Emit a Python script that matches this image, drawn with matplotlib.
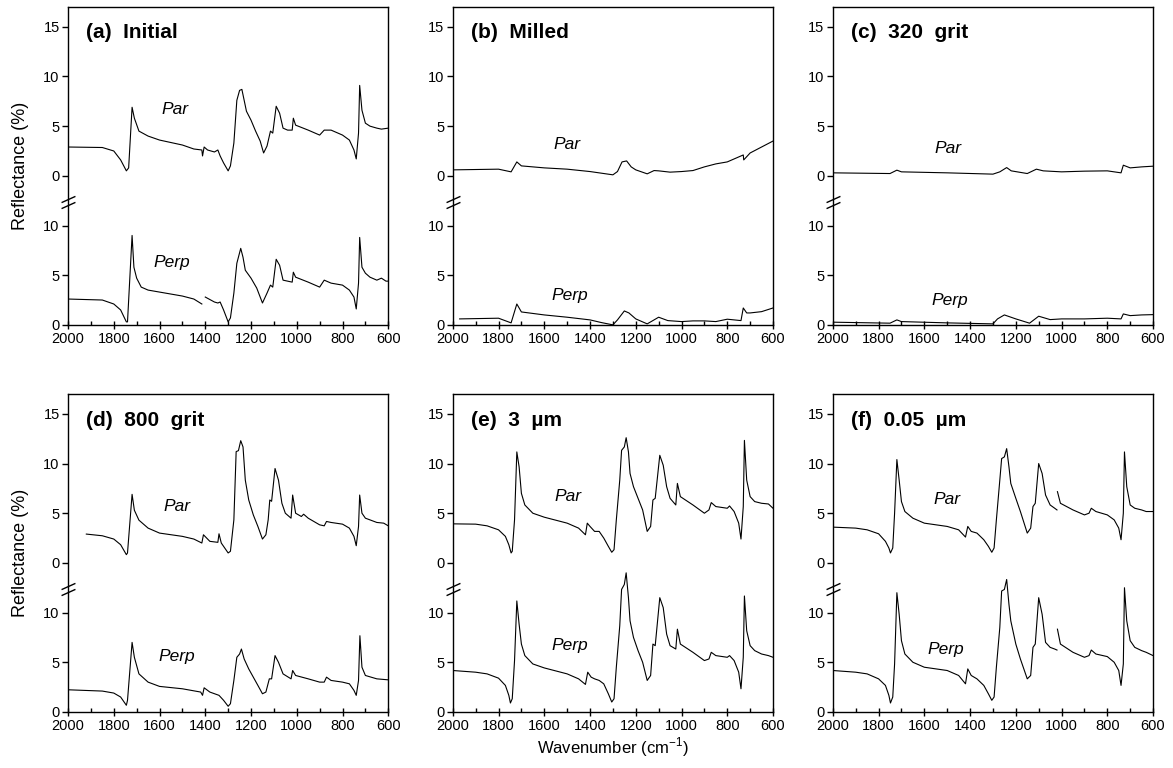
import numpy as np
import matplotlib.pyplot as plt
from matplotlib.transforms import blended_transform_factory

plt.rcParams['font.family'] = ['Liberation Sans', 'DejaVu Sans']

OFFSET = 15.0   # Par spectra are drawn on the upper part of the broken axis
BREAK = 12.4    # where the // marks sit on the left spine
nan = np.nan

# ---- (a) Initial ----
a_par_wn = [2000, 1850, 1800, 1770, 1745, 1735, 1720, 1710, 1690, 1650, 1600, 1500, 1450,
            1415, 1412, 1405, 1390, 1360, 1345, 1335, 1320, 1300, 1290, 1275, 1262, 1250,
            1240, 1230, 1220, 1200, 1180, 1160, 1145, 1130, 1115, 1105, 1090, 1075, 1060,
            1040, 1020, 1015, 1005, 950, 900, 880, 850, 800, 770, 750, 740, 730, 725, 715,
            700, 680, 650, 630, 600]
a_par = [2.9, 2.85, 2.5, 1.6, 0.5, 0.8, 6.9, 5.8, 4.5, 4.0, 3.6, 3.1, 2.7,
         2.6, 2.0, 2.9, 2.6, 2.4, 2.6, 2.0, 1.3, 0.5, 1.0, 3.3, 7.6, 8.6,
         8.7, 7.6, 6.5, 5.6, 4.5, 3.5, 2.3, 3.0, 4.5, 4.3, 7.0, 6.3, 4.8,
         4.6, 4.6, 5.8, 5.1, 4.6, 4.1, 4.6, 4.6, 4.1, 3.6, 2.6, 1.7, 4.3, 9.1, 6.6,
         5.3, 5.0, 4.8, 4.7, 4.8]
a_perp_wn = [2000, 1850, 1800, 1770, 1745, 1740, 1720, 1712, 1700, 1680, 1650, 1600, 1500,
             1450, 1415, 1408, 1400, 1360, 1345, 1335, 1320, 1300, 1290, 1275, 1262, 1245,
             1235, 1225, 1200, 1175, 1150, 1130, 1115, 1105, 1090, 1075, 1060, 1020, 1015,
             1005, 950, 900, 880, 850, 800, 770, 750, 740, 730, 725, 715, 700, 680, 650,
             630, 610, 600]
a_perp = [2.6, 2.5, 2.1, 1.5, 0.3, 0.3, 9.0, 5.8, 4.7, 3.8, 3.5, 3.3, 2.9,
          2.6, 2.1, nan, 2.8, 2.3, 2.2, 2.3, 1.5, 0.3, 0.7, 3.2, 6.2, 7.7,
          6.8, 5.5, 4.7, 3.7, 2.2, 3.2, 4.0, 3.8, 6.6, 6.0, 4.5, 4.3, 5.3,
          4.8, 4.3, 3.8, 4.5, 4.2, 4.0, 3.5, 2.8, 1.6, 4.2, 8.8, 5.8, 5.2, 4.8, 4.5,
          4.7, 4.4, 4.4]

# ---- (b) Milled ----
b_par_wn = [2000, 1800, 1745, 1720, 1700, 1600, 1500, 1400, 1300, 1280, 1260, 1240, 1220,
            1200, 1150, 1120, 1100, 1050, 1000, 950, 900, 850, 800, 750, 730, 728, 700,
            650, 600]
b_par = [0.6, 0.67, 0.4, 1.4, 1.0, 0.8, 0.67, 0.43, 0.1, 0.43, 1.4, 1.5, 0.9,
         0.6, 0.2, 0.53, 0.5, 0.37, 0.43, 0.53, 0.9, 1.2, 1.4, 1.9, 2.1, 1.6, 2.3,
         2.9, 3.5]
b_perp_wn = [1970, 1800, 1745, 1720, 1700, 1600, 1500, 1400, 1350, 1300, 1280, 1250, 1230,
             1200, 1150, 1120, 1100, 1060, 1000, 950, 900, 850, 800, 740, 730, 715, 700,
             650, 600]
b_perp = [0.6, 0.67, 0.2, 2.1, 1.3, 1.0, 0.77, 0.5, 0.23, 0.0, 0.5, 1.4, 1.2,
          0.6, 0.1, 0.5, 0.77, 0.43, 0.33, 0.4, 0.4, 0.33, 0.57, 0.43, 1.7, 1.2, 1.2,
          1.33, 1.7]

# ---- (c) 320 grit ----
c_par_wn = [2000, 1750, 1720, 1700, 1500, 1300, 1270, 1240, 1220, 1150, 1110, 1080, 1000,
            900, 800, 740, 730, 700, 650, 600]
c_par = [0.3, 0.23, 0.57, 0.4, 0.3, 0.17, 0.4, 0.83, 0.5, 0.23, 0.67, 0.5, 0.4,
         0.47, 0.5, 0.3, 1.07, 0.8, 0.9, 0.97]
c_perp_wn = [2000, 1750, 1720, 1700, 1500, 1300, 1280, 1250, 1200, 1140, 1100, 1050, 1000,
             900, 800, 740, 730, 700, 650, 600]
c_perp = [0.27, 0.17, 0.5, 0.33, 0.2, 0.1, 0.6, 1.0, 0.6, 0.17, 0.87, 0.53, 0.6,
          0.6, 0.67, 0.6, 1.1, 0.93, 1.0, 1.03]

# ---- (d) 800 grit ----
d_par_wn = [1920, 1850, 1800, 1770, 1745, 1740, 1720, 1710, 1690, 1650, 1600, 1500, 1450,
            1415, 1408, 1380, 1345, 1340, 1330, 1300, 1290, 1275, 1265, 1255, 1245, 1235,
            1225, 1210, 1190, 1170, 1150, 1135, 1125, 1118, 1110, 1095, 1080, 1065, 1050,
            1025, 1018, 1005, 980, 970, 950, 900, 880, 870, 850, 800, 770, 750, 740, 730,
            725, 715, 700, 680, 650, 620, 600]
d_par = [2.9, 2.73, 2.4, 1.83, 0.83, 1.0, 6.9, 5.3, 4.3, 3.5, 3.0, 2.67, 2.4,
         2.0, 2.83, 2.17, 2.07, 2.93, 2.0, 1.0, 1.17, 4.33, 11.2, 11.3, 12.3, 11.67,
         8.33, 6.33, 4.83, 3.67, 2.4, 2.83, 4.33, 6.33, 6.2, 9.5, 8.33, 6.0, 5.0,
         4.5, 6.83, 5.0, 4.67, 4.9, 4.5, 3.83, 3.73, 4.17, 4.07, 3.9, 3.5, 2.67, 1.73, 3.67,
         6.83, 5.0, 4.5, 4.33, 4.07, 4.0, 3.73]
d_perp_wn = [2000, 1850, 1800, 1770, 1745, 1740, 1720, 1710, 1690, 1650, 1600, 1500, 1420,
             1412, 1405, 1380, 1340, 1320, 1300, 1290, 1275, 1262, 1250, 1242, 1230, 1210,
             1190, 1170, 1150, 1135, 1120, 1110, 1095, 1080, 1060, 1025, 1018, 1005, 950,
             900, 880, 870, 850, 800, 770, 750, 740, 730, 724, 715, 700, 650, 600]
d_perp = [2.23, 2.1, 1.9, 1.5, 0.67, 1.17, 7.0, 5.5, 3.83, 3.0, 2.57, 2.33, 2.0,
          1.67, 2.43, 2.0, 1.67, 1.17, 0.57, 0.83, 3.17, 5.5, 5.83, 6.33, 5.33, 4.33,
          3.5, 2.67, 1.83, 2.0, 3.33, 3.33, 5.67, 5.0, 3.83, 3.33, 4.17, 3.67, 3.33,
          3.0, 3.0, 3.5, 3.17, 3.0, 2.83, 2.17, 1.67, 3.17, 7.67, 4.5, 3.67, 3.33, 3.23]

# ---- (e) 3 um ----
e_par_wn = [2000, 1900, 1850, 1800, 1770, 1755, 1745, 1740, 1730, 1720, 1710, 1700, 1685,
            1650, 1600, 1500, 1450, 1420, 1412, 1400, 1380, 1360, 1340, 1320, 1305, 1295,
            1285, 1270, 1262, 1250, 1242, 1232, 1225, 1210, 1190, 1170, 1150, 1135, 1125,
            1115, 1095, 1080, 1065, 1050, 1025, 1018, 1005, 950, 900, 880, 870, 850, 800,
            790, 770, 750, 740, 730, 725, 715, 700, 680, 650, 620, 600]
e_par = [3.93, 3.9, 3.73, 3.33, 2.67, 1.83, 1.0, 1.17, 4.33, 11.17, 9.67, 7.0, 5.83,
         5.0, 4.6, 4.0, 3.5, 2.83, 4.0, 3.67, 3.17, 3.17, 2.5, 1.67, 1.07, 1.33,
         4.33, 8.33, 11.33, 11.67, 12.6, 11.17, 9.0, 7.67, 6.5, 5.33, 3.17, 3.67, 6.33,
         6.5, 10.83, 9.83, 7.67, 6.5, 5.83, 8.0, 6.67, 5.83, 5.0, 5.33, 6.07, 5.67, 5.5,
         5.73, 5.17, 4.0, 2.4, 5.67, 12.33, 8.33, 6.67, 6.17, 6.0, 5.93, 5.5]
e_perp_wn = [2000, 1900, 1850, 1800, 1770, 1755, 1748, 1740, 1730, 1720, 1710, 1700, 1685,
             1650, 1600, 1500, 1450, 1420, 1410, 1395, 1380, 1360, 1340, 1320, 1305, 1295,
             1285, 1270, 1262, 1250, 1242, 1232, 1225, 1210, 1190, 1170, 1150, 1135, 1125,
             1115, 1095, 1080, 1065, 1050, 1025, 1018, 1005, 950, 900, 880, 870, 850, 800,
             790, 770, 750, 740, 730, 725, 715, 700, 680, 650, 620, 600]
e_perp = [4.17, 4.0, 3.83, 3.4, 2.67, 1.67, 0.9, 1.33, 5.17, 11.17, 8.83, 6.83, 5.67,
          4.83, 4.43, 3.83, 3.33, 2.77, 4.0, 3.5, 3.33, 3.17, 2.83, 1.83, 1.0, 1.33,
          4.5, 8.67, 12.33, 12.83, 14.0, 11.5, 9.17, 7.5, 6.17, 5.0, 3.17, 3.67, 6.83,
          6.67, 11.5, 10.5, 7.83, 6.67, 6.33, 8.33, 6.83, 6.0, 5.17, 5.33, 6.0, 5.67, 5.5,
          5.67, 5.17, 4.0, 2.33, 5.5, 11.67, 8.17, 6.67, 6.17, 5.83, 5.67, 5.5]

# ---- (f) 0.05 um ----
f_par_wn = [2000, 1900, 1850, 1800, 1770, 1755, 1748, 1738, 1730, 1720, 1710, 1700, 1685,
            1650, 1600, 1500, 1450, 1420, 1410, 1395, 1370, 1340, 1320, 1305, 1295, 1285,
            1270, 1262, 1250, 1240, 1230, 1222, 1200, 1180, 1150, 1135, 1125, 1115, 1100,
            1085, 1070, 1050, 1030, 1020, 1019, 1018, 1005, 950, 900, 880, 870, 850, 800,
            770, 750, 740, 730, 725, 715, 700, 680, 650, 630, 600]
f_par = [3.6, 3.5, 3.33, 2.93, 2.17, 1.5, 1.0, 1.5, 5.0, 10.4, 8.33, 6.17, 5.17,
         4.5, 4.0, 3.67, 3.33, 2.6, 3.67, 3.17, 3.0, 2.33, 1.67, 1.07, 1.5, 4.33,
         8.33, 10.5, 10.67, 11.5, 9.67, 8.0, 6.5, 5.17, 3.0, 3.5, 5.67, 6.0, 10.0,
         9.0, 6.83, 5.83, 5.5, 5.33, nan, 7.17, 6.0, 5.33, 4.83, 5.0, 5.5, 5.17, 4.83,
         4.33, 3.5, 2.33, 5.0, 11.17, 7.67, 5.83, 5.5, 5.33, 5.17, 5.17]
f_perp_wn = [2000, 1900, 1850, 1800, 1770, 1755, 1748, 1738, 1730, 1720, 1710, 1700, 1685,
             1650, 1600, 1500, 1450, 1420, 1410, 1395, 1370, 1340, 1320, 1305, 1295, 1285,
             1270, 1262, 1250, 1240, 1230, 1222, 1200, 1180, 1150, 1135, 1125, 1115, 1100,
             1085, 1070, 1050, 1030, 1020, 1019, 1018, 1005, 950, 900, 880, 870, 850, 800,
             770, 750, 740, 730, 725, 715, 700, 680, 650, 630, 600]
f_perp = [4.17, 4.0, 3.83, 3.33, 2.67, 1.67, 0.9, 1.5, 4.83, 12.0, 9.83, 7.17, 5.83,
          5.0, 4.5, 4.17, 3.67, 2.83, 4.33, 3.67, 3.33, 2.67, 1.83, 1.17, 1.5, 4.5,
          8.5, 12.17, 12.33, 13.33, 10.83, 9.17, 6.83, 5.33, 3.33, 3.67, 6.5, 6.83, 11.5,
          9.83, 7.0, 6.5, 6.33, 6.23, nan, 8.33, 6.83, 6.0, 5.5, 5.67, 6.23, 5.83, 5.57,
          5.0, 4.17, 2.67, 4.83, 12.5, 9.17, 7.17, 6.5, 6.17, 6.0, 5.67]

titles = ['(a)  Initial', '(b)  Milled', '(c)  320  grit',
          '(d)  800  grit', '(e)  3  \u00b5m', '(f)  0.05  \u00b5m']
spectra = [(a_par_wn, a_par, a_perp_wn, a_perp),
           (b_par_wn, b_par, b_perp_wn, b_perp),
           (c_par_wn, c_par, c_perp_wn, c_perp),
           (d_par_wn, d_par, d_perp_wn, d_perp),
           (e_par_wn, e_par, e_perp_wn, e_perp),
           (f_par_wn, f_par, f_perp_wn, f_perp)]

# where the Par / Perp labels go: (wavenumber, reflectance on own scale)
par_lbl = [(1532, 6.7), (1499, 3.2), (1495, 2.7), (1523, 5.7), (1495, 6.7), (1500, 6.4)]
perp_lbl = [(1545, 6.3), (1490, 3.0), (1487, 2.5), (1523, 5.6), (1490, 6.7), (1508, 6.3)]

ytick_pos = [0, 5, 10, OFFSET, OFFSET + 5, OFFSET + 10, OFFSET + 15]
ytick_lab = ['0', '5', '10', '0', '5', '10', '15']

fig = plt.figure(figsize=(11.73, 7.68), dpi=100)

lefts = [0.058, 0.386, 0.710]
bottoms = [0.577, 0.073]
w, h = 0.273, 0.414

for i, (title, sp) in enumerate(zip(titles, spectra)):
    row, col = divmod(i, 3)
    ax = fig.add_axes([lefts[col], bottoms[row], w, h])
    pw, pr, qw, qr = sp
    ax.plot(pw, np.array(pr) + OFFSET, color='k', lw=0.8)
    ax.plot(qw, qr, color='k', lw=0.8)

    ax.set_xlim(2000, 600)
    ax.set_ylim(0, 32)
    ax.set_xticks(np.arange(2000, 599, -200))
    ax.set_xticks(np.arange(1900, 600, -200), minor=True)
    ax.set_yticks(ytick_pos)
    ax.set_yticklabels(ytick_lab)
    ax.tick_params(axis='y', direction='out', length=4, width=1, labelsize=10.5, pad=2)
    ax.tick_params(axis='x', which='major', direction='inout', length=6, width=1,
                   labelsize=10.5, pad=2)
    ax.tick_params(axis='x', which='minor', direction='in', length=3, width=1)
    for s in ax.spines.values():
        s.set_linewidth(1.0)

    # break marks on the left spine
    tr = blended_transform_factory(ax.transAxes, ax.transData)
    ax.plot([0, 0], [BREAK - 0.3, BREAK + 0.3], transform=tr, linestyle='none',
            marker=[(-1, -0.45), (1, 0.45)], markersize=10, mew=1, color='k',
            clip_on=False)

    ax.text(0.056, 0.918, title, transform=ax.transAxes, fontsize=15,
            fontweight='bold', va='center', ha='left')
    ax.text(par_lbl[i][0], par_lbl[i][1] + OFFSET, 'Par', style='italic',
            fontsize=12.5, ha='center', va='center')
    ax.text(perp_lbl[i][0], perp_lbl[i][1], 'Perp', style='italic',
            fontsize=12.5, ha='center', va='center')

    if col == 0:
        ax.set_ylabel('Reflectance (%)', fontsize=13, labelpad=10)
    if row == 1 and col == 1:
        ax.set_xlabel('Wavenumber (cm$^{\\mathregular{-1}}$)', fontsize=12, labelpad=2)

fig.savefig('out.png', dpi=100)
